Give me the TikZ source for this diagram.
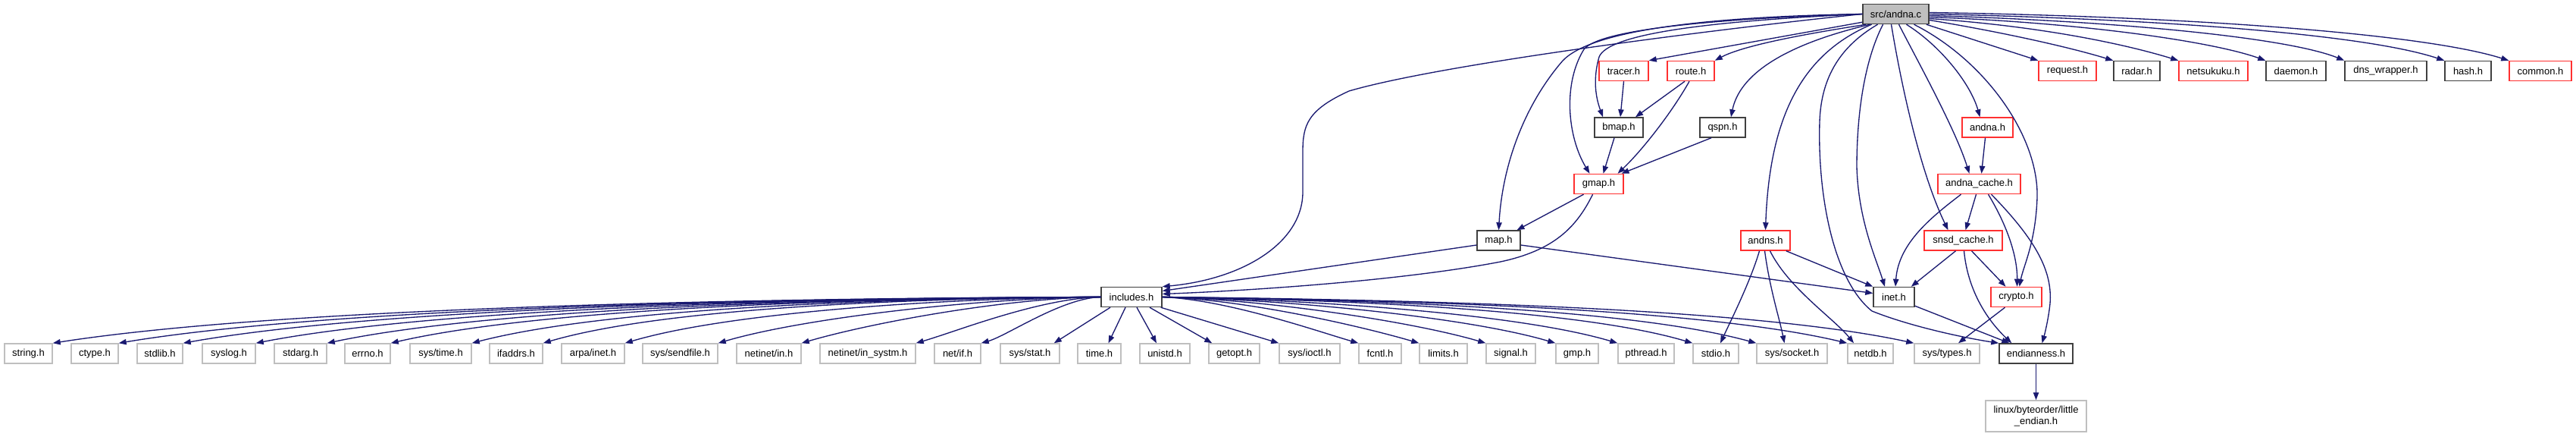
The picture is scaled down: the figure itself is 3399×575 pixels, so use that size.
\documentclass[tikz,border=0pt]{standalone}
\usepackage{fontspec}
\setmainfont{Liberation Sans}
\usetikzlibrary{arrows.meta,calc}
\definecolor{edgeblue}{HTML}{191970}
\definecolor{boxred}{HTML}{FF3030}
\definecolor{boxgray}{HTML}{BFBFBF}
\definecolor{boxdark}{HTML}{404040}
\newcommand\mkbox[6]{\node[#5, minimum width={#4*0.75pt}] (#1) at (#2,#3) {#6};}
\begin{document}
\begin{tikzpicture}[x=0.75pt, y=-0.75pt, font=\fontsize{9.75pt}{11pt}\selectfont,
  bx/.style={draw, line width=1.1pt, inner sep=0pt, minimum height=19.5pt, fill=white, text=black},
  kbox/.style={bx, draw=boxdark},
  rbox/.style={bx, draw=boxred},
  gbox/.style={bx, draw=boxgray},
  dep/.style={draw=edgeblue, line width=1pt, -{Triangle[length=7.5pt,width=5.5pt]}}]
\fill[white] (0,0) rectangle (3399,575);
\useasboundingbox (0,0) rectangle (3399,575);
% top
\mkbox{src}{2501.5}{18.5}{87}{kbox,fill=boxgray}{src/andna.c}
% row 2
\mkbox{tracer}{2142.5}{93.5}{65}{rbox}{tracer.h}
\mkbox{route}{2231}{93.5}{62}{rbox}{route.h}
\mkbox{request}{2728}{93.5}{76}{rbox}{request.h}
\mkbox{radar}{2819.5}{93.5}{61}{kbox}{radar.h}
\mkbox{netsukuku}{2920.5}{93.5}{91}{rbox}{netsukuku.h}
\mkbox{daemon}{3029.5}{93.5}{79}{kbox}{daemon.h}
\mkbox{dnsw}{3148}{93.5}{108}{kbox}{dns\_wrapper.h}
\mkbox{hash}{3256.5}{93.5}{61}{kbox}{hash.h}
\mkbox{common}{3352}{93.5}{82}{rbox}{common.h}
% row 3
\mkbox{bmap}{2136}{168}{64}{kbox}{bmap.h}
\mkbox{qspn}{2273}{168}{60}{kbox}{qspn.h}
\mkbox{andnah}{2622.5}{168}{67}{rbox}{andna.h}
% row 4
\mkbox{gmap}{2109.5}{242.5}{65}{rbox}{gmap.h}
\mkbox{acache}{2611.5}{242.5}{109}{rbox}{andna\_cache.h}
% row 5
\mkbox{map}{1977.5}{317}{57}{kbox}{map.h}
\mkbox{andns}{2329.5}{317}{65}{rbox}{andns.h}
\mkbox{snsd}{2590.5}{317}{103}{rbox}{snsd\_cache.h}
% row 6
\mkbox{inc}{1493}{391.5}{80}{kbox}{includes.h}
\mkbox{inet}{2499}{391.5}{54}{kbox}{inet.h}
\mkbox{crypto}{2660.5}{391.5}{67}{rbox}{crypto.h}
% row 7
\mkbox{string}{37.5}{466}{63}{gbox}{string.h}
\mkbox{ctype}{125}{466}{62}{gbox}{ctype.h}
\mkbox{stdlib}{211}{466}{60}{gbox}{stdlib.h}
\mkbox{syslog}{302}{466}{70}{gbox}{syslog.h}
\mkbox{stdarg}{396.5}{466}{69}{gbox}{stdarg.h}
\mkbox{errno}{485}{466}{60}{gbox}{errno.h}
\mkbox{systime}{581.5}{466}{81}{gbox}{sys/time.h}
\mkbox{ifaddrs}{681}{466}{70}{gbox}{ifaddrs.h}
\mkbox{arpainet}{782.5}{466}{83}{gbox}{arpa/inet.h}
\mkbox{sendfile}{897.5}{466}{99}{gbox}{sys/sendfile.h}
\mkbox{netinetin}{1014.5}{466}{85}{gbox}{netinet/in.h}
\mkbox{insystm}{1145}{466}{126}{gbox}{netinet/in\_systm.h}
\mkbox{netif}{1263.5}{466}{61}{gbox}{net/if.h}
\mkbox{systat}{1359}{466}{78}{gbox}{sys/stat.h}
\mkbox{timeh}{1450.5}{466}{57}{gbox}{time.h}
\mkbox{unistd}{1537}{466}{66}{gbox}{unistd.h}
\mkbox{getopt}{1628.5}{466}{67}{gbox}{getopt.h}
\mkbox{sysioctl}{1728}{466}{80}{gbox}{sys/ioctl.h}
\mkbox{fcntl}{1821}{466}{56}{gbox}{fcntl.h}
\mkbox{limits}{1904.5}{466}{63}{gbox}{limits.h}
\mkbox{signal}{1993.5}{466}{65}{gbox}{signal.h}
\mkbox{gmp}{2081}{466}{56}{gbox}{gmp.h}
\mkbox{pthread}{2172}{466}{74}{gbox}{pthread.h}
\mkbox{stdio}{2264}{466}{60}{gbox}{stdio.h}
\mkbox{syssocket}{2364.5}{466}{93}{gbox}{sys/socket.h}
\mkbox{netdb}{2468}{466}{60}{gbox}{netdb.h}
\mkbox{systypes}{2569}{466}{86}{gbox}{sys/types.h}
\mkbox{endian}{2686.5}{466}{97}{kbox}{endianness.h}
\node[gbox, minimum width={133*0.75pt}, minimum height={41*0.75pt}, align=center] (linux) at (2686.5,548.5) {linux/byteorder/little\\\_endian.h};

% ---- edges from src, leftwards
\draw[dep] (src.west) .. controls (2250,40) and (1900,85) .. (1780,120) .. controls (1725,145) and (1719,165) .. (1719,200) -- (1719,253) .. controls (1719,320) and (1640,368) .. (inc.north east);
\draw[dep] (src.west) .. controls (2250,22) and (2100,40) .. (2062,80) .. controls (2010,140) and (1982,220) .. (map.north);
\draw[dep] (src.west) .. controls (2250,25) and (2110,40) .. (2090,65) .. controls (2062,110) and (2068,180) .. ($(gmap.north)+(-12,0)$);
\draw[dep] (src.west) .. controls (2250,28) and (2122,45) .. (2110,75) .. controls (2100,110) and (2108,135) .. ($(bmap.north)+(-21,0)$);
\draw[dep] ($(src.south west)+(0,-3)$) -- (tracer.north east);
\draw[dep] ($(src.south west)+(5,0)$) .. controls (2380,45) and (2300,60) .. (route.north east);
\draw[dep] ($(src.south west)+(10,0)$) .. controls (2350,60) and (2295,100) .. ($(qspn.north)+(11,0)$);
% ---- downwards
\draw[dep] ($(src.south)+(-32,0)$) .. controls (2380,70) and (2335,150) .. (andns.north);
\draw[dep] ($(src.south)+(-24,0)$) .. controls (2430,60) and (2403,100) .. (2401,160) .. controls (2398,260) and (2420,370) .. (2470,410) .. controls (2520,430) and (2590,445) .. (endian.north west);
\draw[dep] ($(src.south)+(-17,0)$) .. controls (2460,80) and (2450,150) .. (2450,220) .. controls (2452,290) and (2475,340) .. ($(inet.north)+(-12,0)$);
\draw[dep] ($(src.south)+(-6,0)$) .. controls (2510,120) and (2535,230) .. ($(snsd.north)+(-20,0)$);
\draw[dep] ($(src.south)+(4,0)$) .. controls (2530,80) and (2580,170) .. ($(acache.north)+(-13,0)$);
\draw[dep] ($(src.south)+(14,0)$) .. controls (2560,60) and (2600,110) .. ($(andnah.north)+(-10,0)$);
\draw[dep] ($(src.south)+(24,0)$) .. controls (2620,80) and (2690,180) .. (2688,260) .. controls (2686,320) and (2670,350) .. ($(crypto.north)+(4,0)$);
% ---- rightwards
\draw[dep] ($(src.south east)+(-4,0)$) -- (request.north west);
\draw[dep] ($(src.east)+(0,8)$) .. controls (2640,42) and (2730,62) .. (radar.north west);
\draw[dep] ($(src.east)+(0,6)$) .. controls (2700,35) and (2810,60) .. (netsukuku.north west);
\draw[dep] ($(src.east)+(0,4)$) .. controls (2750,30) and (2920,55) .. (daemon.north west);
\draw[dep] ($(src.east)+(0,2)$) .. controls (2800,28) and (3020,50) .. (dnsw.north west);
\draw[dep] (src.east) .. controls (2850,25) and (3120,45) .. (hash.north west);
\draw[dep] ($(src.east)+(0,-2)$) .. controls (2900,22) and (3200,45) .. (common.north west);

% ---- middle edges
\draw[dep] (tracer.south) -- ($(bmap.north)+(2,0)$);
\draw[dep] ($(route.south)+(-8,0)$) -- ($(bmap.north)+(22,0)$);
\draw[dep] ($(route.south)+(-2,0)$) .. controls (2205,150) and (2165,200) .. ($(gmap.north)+(25,0)$);
\draw[dep] ($(bmap.south)+(-6,0)$) -- ($(gmap.north)+(6,0)$);
\draw[dep] ($(qspn.south)+(-15,0)$) -- ($(gmap.north)+(30,0)$);
\draw[dep] ($(gmap.south)+(-20,0)$) -- ($(map.north)+(24,0)$);
\draw[dep] ($(gmap.south)+(-8,0)$) .. controls (2080,300) and (2050,330) .. (1980,345) .. controls (1850,370) and (1650,383) .. ($(inc.east)+(0,-4)$);
\draw[dep] ($(map.west)+(0,6)$) -- ($(inc.east)+(0,-8)$);
\draw[dep] ($(map.east)+(0,6)$) -- ($(inet.west)+(0,-5)$);
\draw[dep] ($(andns.south east)+(-6,0)$) -- (inet.north west);
\draw[dep] ($(andns.south)+(-8,0)$) .. controls (2310,370) and (2285,420) .. ($(stdio.north)+(6,0)$);
\draw[dep] ($(andns.south)+(-1,0)$) .. controls (2335,380) and (2348,420) .. ($(syssocket.north)+(-10,0)$);
\draw[dep] ($(andns.south)+(6,0)$) .. controls (2360,380) and (2420,420) .. ($(netdb.north)+(-22,0)$);
\draw[dep] ($(andnah.south)+(-3,0)$) -- ($(acache.north)+(3,0)$);
\draw[dep] ($(acache.south)+(-24,0)$) .. controls (2550,285) and (2505,320) .. ($(inet.north)+(2,0)$);
\draw[dep] ($(acache.south)+(-4,0)$) -- ($(snsd.north)+(3,0)$);
\draw[dep] ($(acache.south)+(12,0)$) .. controls (2650,300) and (2662,340) .. ($(crypto.north)+(1,0)$);
\draw[dep] ($(acache.south)+(16,0)$) .. controls (2690,320) and (2708,360) .. (2705,400) .. controls (2703,420) and (2698,440) .. ($(endian.north)+(8,0)$);
\draw[dep] ($(snsd.south)+(-10,0)$) -- ($(inet.north east)+(-5,0)$);
\draw[dep] ($(snsd.south)+(11,0)$) -- ($(crypto.north)+(-14,0)$);
\draw[dep] ($(snsd.south)+(1,0)$) .. controls (2596,380) and (2620,420) .. ($(endian.north west)+(17,0)$);
\draw[dep] ($(crypto.south)+(-15,0)$) -- ($(systypes.north)+(15,0)$);
\draw[dep] ($(inet.south east)+(0,-2)$) -- ($(endian.north west)+(14,0)$);
\draw[dep] (endian.south) -- (linux.north);

% ---- includes.h fan-out
\foreach \h/\hx in {string/69,ctype/156,stdlib/241,syslog/337,stdarg/431,errno/515,systime/622,ifaddrs/716,arpainet/824,sendfile/947,netinetin/1057,insystm/1208,netif/1294}{
  \pgfmathsetmacro\ca{1453-0.33*(1453-\hx)}
  \pgfmathsetmacro\cb{\hx+0.22*(1453-\hx)}
  \pgfmathsetmacro\cy{max(405,453-0.066*(1453-\hx))}
  \draw[dep] (inc.west) .. controls (\ca,393) and (\cb,\cy) .. (\h.north east);
}
\draw[dep] ($(inc.south)+(-28,0)$) -- ($(systat.north east)+(-8,0)$);
\draw[dep] ($(inc.south)+(-8,0)$) -- ($(timeh.north)+(12,0)$);
\draw[dep] ($(inc.south)+(7,0)$) -- ($(unistd.north)+(-11,0)$);
\draw[dep] ($(inc.south)+(24,0)$) -- ($(getopt.north west)+(5,0)$);
\draw[dep] ($(inc.south east)+(-2,0)$) -- (sysioctl.north west);
\foreach \h/\hx in {fcntl/1793,limits/1873,signal/1961,gmp/2053,pthread/2135,stdio/2234,syssocket/2318,netdb/2438,systypes/2526}{
  \pgfmathsetmacro\ca{1533+0.33*(\hx-1533)}
  \pgfmathsetmacro\cb{\hx-0.22*(\hx-1533)}
  \pgfmathsetmacro\cy{max(405,453-0.066*(\hx-1533))}
  \draw[dep] (inc.east) .. controls (\ca,395) and (\cb,\cy) .. (\h.north west);
}
\end{tikzpicture}
\end{document}
